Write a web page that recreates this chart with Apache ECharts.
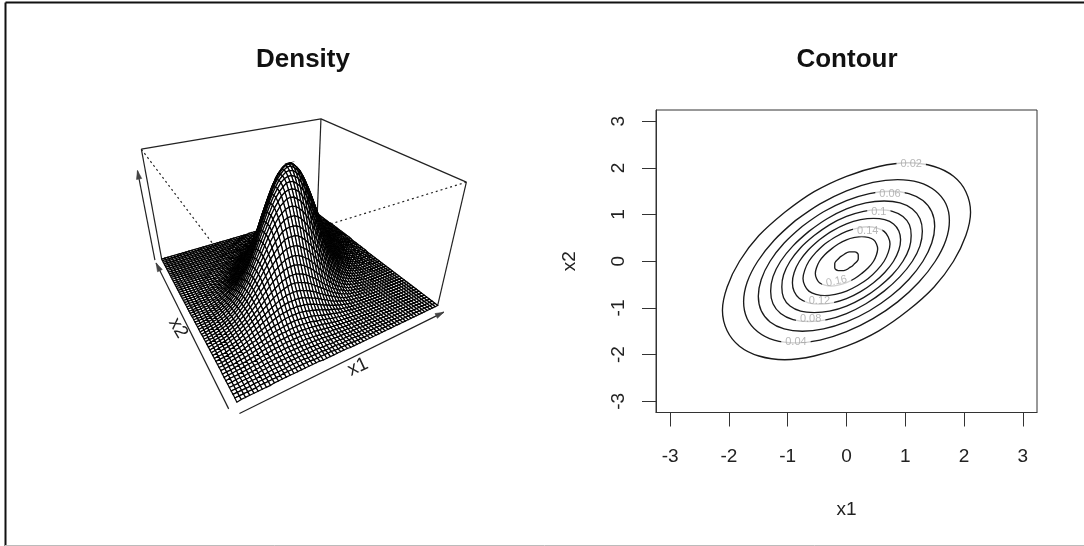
<!DOCTYPE html>
<html>
<head>
<meta charset="utf-8">
<style>
  html, body { margin: 0; padding: 0; background: #fff; }
  #chart { width: 1084px; height: 546px; }
</style>
<script src="https://cdn.jsdelivr.net/npm/echarts@6/dist/echarts.min.js"></script>
</head>
<body>
<div id="chart"></div>
<script>
// surface heights in thousandths, estimated from the contour levels of the right panel.
// one row per x2 step (0 to 3 by 0.1), each row runs outwards from its ridge, missing = 0
const surfaceRows = [
  [184,183,179,173,165,156,145,133,120,107,94,82,70,60,50,41,33,27,21,17,13,10,7,5,4,3,2,1,1,1],
  [183,180,175,169,160,149,138,126,113,100,88,76,65,54,45,37,30,24,19,14,11,8,6,5,3,2,2,1,1,1],
  [180,179,175,170,162,153,142,130,118,105,92,80,69,58,49,40,33,26,21,16,13,10,7,5,4,3,2,1,1,1],
  [175,173,169,162,154,144,133,121,109,96,84,73,62,52,43,35,29,23,18,14,11,8,6,4,3,2,2,1,1,1],
  [170,169,165,160,153,144,133,122,111,99,87,76,65,55,46,38,31,25,20,15,12,9,7,5,4,3,2,1,1,1],
  [162,160,156,149,142,133,122,111,100,89,78,67,57,48,40,33,26,21,17,13,10,7,6,4,3,2,2,1,1],
  [154,153,149,145,138,130,121,111,100,89,79,69,59,50,42,34,28,22,18,14,11,8,6,5,3,2,2,1,1,1],
  [144,142,138,133,126,118,109,99,89,79,69,60,51,43,35,29,23,19,15,11,9,7,5,4,3,2,1,1,1],
  [133,133,130,126,120,113,105,96,87,78,69,60,51,43,36,30,24,19,15,12,9,7,5,4,3,2,1,1,1],
  [122,121,118,113,107,100,92,84,76,67,59,51,43,36,30,25,20,16,13,10,7,6,4,3,2,2,1,1,1],
  [111,111,109,105,100,94,88,80,73,65,57,50,43,36,30,25,20,16,13,10,8,6,4,3,2,2,1,1,1],
  [100,99,96,92,88,82,76,69,62,55,48,42,35,30,25,20,16,13,10,8,6,5,3,3,2,1,1,1],
  [89,89,87,84,80,76,70,65,58,52,46,40,34,29,24,20,16,13,10,8,6,5,4,3,2,1,1,1],
  [79,78,76,73,69,65,60,54,49,43,38,33,28,23,19,16,13,10,8,6,5,4,3,2,1,1,1,1],
  [69,69,67,65,62,58,54,50,45,40,35,31,26,22,19,15,13,10,8,6,5,4,3,2,1,1,1,1],
  [60,59,57,55,52,49,45,41,37,33,29,25,21,18,15,12,10,8,6,5,4,3,2,2,1,1,1],
  [51,51,50,48,46,43,40,37,33,30,26,23,20,17,14,11,9,7,6,5,4,3,2,2,1,1,1],
  [43,43,42,40,38,35,33,30,27,24,21,18,15,13,11,9,7,6,4,3,3,2,1,1,1,1],
  [36,36,35,34,33,31,29,26,24,21,19,16,14,12,10,8,7,5,4,3,3,2,1,1,1,1],
  [30,30,29,28,26,25,23,21,19,17,14,13,11,9,7,6,5,4,3,2,2,1,1,1,1],
  [25,25,24,23,22,21,20,18,16,14,13,11,10,8,7,6,5,4,3,2,2,1,1,1,1],
  [20,20,19,19,18,17,15,14,13,11,10,8,7,6,5,4,3,3,2,2,1,1,1,1],
  [16,16,16,15,15,14,13,12,11,10,8,7,6,5,4,4,3,2,2,1,1,1,1],
  [13,13,13,12,11,11,10,9,8,7,6,5,5,4,3,3,2,2,1,1,1,1],
  [10,10,10,10,9,9,8,7,7,6,5,5,4,3,3,2,2,2,1,1,1,1],
  [8,8,8,7,7,7,6,6,5,4,4,3,3,2,2,2,1,1,1,1],
  [6,6,6,6,6,5,5,5,4,4,3,3,2,2,2,1,1,1,1,1],
  [5,5,5,4,4,4,4,3,3,3,2,2,2,1,1,1,1,1],
  [4,4,4,3,3,3,3,3,2,2,2,2,1,1,1,1,1,1],
  [3,3,3,3,2,2,2,2,2,2,1,1,1,1,1,1],
  [2,2,2,2,2,2,2,1,1,1,1,1,1,1,1]
];
const surfaceMax = 184;

// contour lines, [x1, x2]
const contour002 = [[-1.05,1.05],[-.55,1.49],[0,1.82],[.55,2.03],[1.05,2.11],[1.49,2.03],[1.82,1.82],[2.03,1.49],[2.11,1.05],[2.03,.55],[1.82,0],[1.49,-.55],[1.05,-1.05],[.55,-1.49],[0,-1.82],[-.55,-2.03],[-1.05,-2.11],[-1.49,-2.03],[-1.82,-1.82],[-2.03,-1.49],[-2.11,-1.05],[-2.03,-.55],[-1.82,0],[-1.49,.55],[-1.05,1.05]];
const contour004 = [[-.87,.87],[-.45,1.23],[0,1.51],[.45,1.69],[.87,1.75],[1.23,1.69],[1.51,1.51],[1.69,1.23],[1.75,.87],[1.69,.45],[1.51,0],[1.23,-.45],[.87,-.87],[.45,-1.23],[0,-1.51],[-.45,-1.69],[-.87,-1.75],[-1.23,-1.69],[-1.51,-1.51],[-1.69,-1.23],[-1.75,-.87],[-1.69,-.45],[-1.51,0],[-1.23,.45],[-.87,.87]];
const contour006 = [[-.75,.75],[-.39,1.06],[0,1.30],[.39,1.45],[.75,1.50],[1.06,1.45],[1.30,1.30],[1.45,1.06],[1.50,.75],[1.45,.39],[1.30,0],[1.06,-.39],[.75,-.75],[.39,-1.06],[0,-1.30],[-.39,-1.45],[-.75,-1.50],[-1.06,-1.45],[-1.30,-1.30],[-1.45,-1.06],[-1.50,-.75],[-1.45,-.39],[-1.30,0],[-1.06,.39],[-.75,.75]];
const contour008 = [[-.64,.64],[-.33,.91],[0,1.12],[.33,1.25],[.64,1.29],[.91,1.25],[1.12,1.12],[1.25,.91],[1.29,.64],[1.25,.33],[1.12,0],[.91,-.33],[.64,-.64],[.33,-.91],[0,-1.12],[-.33,-1.25],[-.64,-1.29],[-.91,-1.25],[-1.12,-1.12],[-1.25,-.91],[-1.29,-.64],[-1.25,-.33],[-1.12,0],[-.91,.33],[-.64,.64]];
const contour010 = [[-.55,.55],[-.29,.78],[0,.96],[.29,1.07],[.55,1.10],[.78,1.07],[.96,.96],[1.07,.78],[1.10,.55],[1.07,.29],[.96,0],[.78,-.29],[.55,-.55],[.29,-.78],[0,-.96],[-.29,-1.07],[-.55,-1.10],[-.78,-1.07],[-.96,-.96],[-1.07,-.78],[-1.10,-.55],[-1.07,-.29],[-.96,0],[-.78,.29],[-.55,.55]];
const contour012 = [[-.46,.46],[-.24,.65],[0,.80],[.24,.89],[.46,.92],[.65,.89],[.80,.80],[.89,.65],[.92,.46],[.89,.24],[.80,0],[.65,-.24],[.46,-.46],[.24,-.65],[0,-.80],[-.24,-.89],[-.46,-.92],[-.65,-.89],[-.80,-.80],[-.89,-.65],[-.92,-.46],[-.89,-.24],[-.80,0],[-.65,.24],[-.46,.46]];
const contour014 = [[-.37,.37],[-.19,.52],[0,.64],[.19,.71],[.37,.74],[.52,.71],[.64,.64],[.71,.52],[.74,.37],[.71,.19],[.64,0],[.52,-.19],[.37,-.37],[.19,-.52],[0,-.64],[-.19,-.71],[-.37,-.74],[-.52,-.71],[-.64,-.64],[-.71,-.52],[-.74,-.37],[-.71,-.19],[-.64,0],[-.52,.19],[-.37,.37]];
const contour016 = [[-.26,.26],[-.14,.37],[0,.46],[.14,.51],[.26,.53],[.37,.51],[.46,.46],[.51,.37],[.53,.26],[.51,.14],[.46,0],[.37,-.14],[.26,-.26],[.14,-.37],[0,-.46],[-.14,-.51],[-.26,-.53],[-.37,-.51],[-.46,-.46],[-.51,-.37],[-.53,-.26],[-.51,-.14],[-.46,0],[-.37,.14],[-.26,.26]];
const contour018 = [[-.10,.10],[-.05,.14],[0,.18],[.05,.20],[.10,.20],[.14,.20],[.18,.18],[.20,.14],[.20,.10],[.20,.05],[.18,0],[.14,-.05],[.10,-.10],[.05,-.14],[0,-.18],[-.05,-.20],[-.10,-.20],[-.14,-.20],[-.18,-.18],[-.20,-.14],[-.20,-.10],[-.20,-.05],[-.18,0],[-.14,.05],[-.10,.10]];

// where the contour labels sit: [x1, x2, text, angle]
const contourLabels = [
  [1.10, 2.08, '0.02', 0],
  [-.86, -1.72, '0.04', 0],
  [.74, 1.45, '0.06', 0],
  [-.61, -1.24, '0.08', 0],
  [.55, 1.06, '0.1', 0],
  [-.46, -.86, '0.12', 0],
  [.36, .65, '0.14', 0],
  [-.17, -.43, '0.16', 12]
];
const tickValues = [-3, -2, -1, 0, 1, 2, 3];

// box of the perspective plot, corners in -1..1
const boxSolid = [
  [[-1,1,1],[1,1,1]], [[1,1,1],[1,-1,1]],
  [[-1,1,1],[-1,1,-1]], [[1,1,1],[1,1,-1]], [[1,-1,1],[1,-1,-1]],
  [[-1,1,-1],[1,1,-1]], [[1,1,-1],[1,-1,-1]]
];
const boxDotted = [[[-1,1,1],[-1,-1,1]], [[1,-1,1],[-1,-1,1]]];
// axis arrows next to the box
const boxArrows = [
  [[-1.02,-1.09,-1],[.98,-1.09,-1]],
  [[-1.07,-1.02,-1],[-1.07,.96,-1]],
  [[-1.07,1,-.98],[-1.07,1,.68]]
];

const FONT = '"Liberation Sans", Arial, sans-serif';
const theta = 30 * Math.PI / 180;
const phi = 30 * Math.PI / 180;
const expand = 0.6;
const viewDist = Math.sqrt(3) + 2;

// same viewing transform as persp(): rotate, then perspective divide
function project(px, py, pz) {
  const u = px * Math.cos(theta) - py * Math.sin(theta);
  const v = px * Math.sin(theta) + py * Math.cos(theta);
  const zz = pz * expand;
  const w = viewDist + v * Math.cos(phi) - zz * Math.sin(phi);
  return [u / w, (zz * Math.cos(phi) + v * Math.sin(phi)) / w];
}

const halfN = surfaceRows.length - 1;
const gridN = halfN * 2;

// look up a height; the surface is the same turned around its centre, rows are the same on both sides of the ridge
function heightAt(r, c) {
  let row = r - halfN;
  let col = c - halfN;
  if (row < 0) {
    row = -row;
    col = -col;
  }
  return surfaceRows[row][Math.floor(Math.abs(col - row / 2))] || 0;
}

function meshPoint(api, r, c) {
  return api.coord(project(-1 + 2 * c / gridN, -1 + 2 * r / gridN, heightAt(r, c) / surfaceMax * 2 - 1));
}

// back to front, so nearer cells paint over the ones behind them
const surfaceCells = [];
for (let r = gridN - 1; r >= 0; r--) {
  for (let c = gridN - 1; c >= 0; c--) {
    surfaceCells.push([c, r]);
  }
}

function edgeSeries(edges, dash, width, withHead) {
  return {
    type: 'custom',
    xAxisIndex: 0,
    yAxisIndex: 0,
    silent: true,
    clip: false,
    z: withHead ? 5 : 2,
    data: edges.map(function (e, i) { return [i, i]; }),
    encode: { x: [], y: [] },
    renderItem: function (params, api) {
      const e = edges[params.dataIndex];
      const a = api.coord(project(e[0][0], e[0][1], e[0][2]));
      const b = api.coord(project(e[1][0], e[1][1], e[1][2]));
      const style = { stroke: '#222', lineWidth: width, fill: null, lineDash: dash };
      const kids = [{ type: 'line', shape: { x1: a[0], y1: a[1], x2: b[0], y2: b[1] }, style: style }];
      if (withHead) {
        const ang = Math.atan2(b[1] - a[1], b[0] - a[0]);
        const barb = function (d) {
          return [b[0] - 9 * Math.cos(ang + d), b[1] - 9 * Math.sin(ang + d)];
        };
        kids.push({ type: 'polygon', shape: { points: [b, barb(0.3), barb(-0.3)] }, style: { fill: '#444', stroke: '#444', lineWidth: 0.6 } });
      }
      return { type: 'group', children: kids };
    }
  };
}

function contourSeries(points) {
  return {
    type: 'line',
    xAxisIndex: 1,
    yAxisIndex: 1,
    data: points,
    symbol: 'none',
    smooth: 0.35,
    silent: true,
    z: 3,
    lineStyle: { color: '#1a1a1a', width: 1.35 }
  };
}

const chartInstance = echarts.init(document.getElementById('chart'));
const option = {
  animation: false,
  backgroundColor: '#fff',
  textStyle: { fontFamily: FONT },
  title: [
    { text: 'Density', left: 298, top: 42, textAlign: 'center', textStyle: { fontFamily: FONT, fontSize: 26, fontWeight: 'bold', color: '#111' } },
    { text: 'Contour', left: 842, top: 42, textAlign: 'center', textStyle: { fontFamily: FONT, fontSize: 26, fontWeight: 'bold', color: '#111' } }
  ],
  grid: [
    { left: 120, top: 100, width: 360, height: 320, show: false },
    { left: 656, top: 110, width: 381, height: 302.5, show: true, borderColor: '#333', borderWidth: 1, backgroundColor: 'transparent' }
  ],
  xAxis: [
    { gridIndex: 0, type: 'value', min: -0.4171, max: 0.4722, show: false },
    {
      gridIndex: 1, type: 'value', min: -3.24, max: 3.24,
      name: 'x1', nameLocation: 'middle', nameGap: 88,
      nameTextStyle: { fontSize: 19, color: '#222', fontFamily: FONT },
      axisLine: { show: true, onZero: false, lineStyle: { color: '#333', width: 1 } },
      axisTick: { show: true, length: 14, customValues: tickValues, lineStyle: { color: '#333', width: 1 } },
      axisLabel: { show: true, customValues: tickValues, margin: 35, fontSize: 19, color: '#222', fontFamily: FONT, hideOverlap: false },
      splitLine: { show: false }
    }
  ],
  yAxis: [
    { gridIndex: 0, type: 'value', min: -0.4651, max: 0.3060, show: false },
    {
      gridIndex: 1, type: 'value', min: -3.24, max: 3.24,
      name: 'x2', nameLocation: 'middle', nameGap: 77, nameRotate: 90,
      nameTextStyle: { fontSize: 19, color: '#222', fontFamily: FONT },
      axisLine: { show: true, onZero: false, lineStyle: { color: '#333', width: 1 } },
      axisTick: { show: true, length: 14, customValues: tickValues, lineStyle: { color: '#333', width: 1 } },
      axisLabel: { show: true, customValues: tickValues, margin: 28, rotate: 90, fontSize: 19, color: '#222', fontFamily: FONT, hideOverlap: false },
      splitLine: { show: false }
    }
  ],
  series: [
    edgeSeries(boxSolid, null, 1.2, false),
    edgeSeries(boxDotted, [2, 3], 1.2, false),
    {
      type: 'custom',
      xAxisIndex: 0,
      yAxisIndex: 0,
      silent: true,
      clip: false,
      z: 4,
      progressive: 0,
      data: surfaceCells,
      encode: { x: [], y: [] },
      renderItem: function (params, api) {
        const cell = surfaceCells[params.dataIndex];
        const c = cell[0];
        const r = cell[1];
        return {
          type: 'polygon',
          shape: { points: [meshPoint(api, r, c), meshPoint(api, r, c + 1), meshPoint(api, r + 1, c + 1), meshPoint(api, r + 1, c)] },
          style: { fill: '#fff', stroke: '#000', lineWidth: 1.2 }
        };
      }
    },
    edgeSeries(boxArrows, null, 1.2, true),
    contourSeries(contour002),
    contourSeries(contour004),
    contourSeries(contour006),
    contourSeries(contour008),
    contourSeries(contour010),
    contourSeries(contour012),
    contourSeries(contour014),
    contourSeries(contour016),
    contourSeries(contour018),
    {
      type: 'scatter',
      xAxisIndex: 1,
      yAxisIndex: 1,
      symbolSize: 0,
      silent: true,
      z: 6,
      data: contourLabels.map(function (item) {
        return {
          value: [item[0], item[1]],
          label: {
            show: true,
            position: 'inside',
            formatter: item[2],
            rotate: item[3],
            fontSize: 11,
            fontFamily: FONT,
            color: '#a6a6a6',
            backgroundColor: '#fff',
            padding: [1, 4, 0, 4],
            lineHeight: 10
          }
        };
      })
    }
  ],
  graphic: [
    { type: 'line', silent: true, shape: { x1: 5.5, y1: 2.5, x2: 1084, y2: 2.5 }, style: { stroke: '#111', lineWidth: 2 } },
    { type: 'line', silent: true, shape: { x1: 5.5, y1: 2.5, x2: 5.5, y2: 546 }, style: { stroke: '#111', lineWidth: 2 } },
    { type: 'line', silent: true, shape: { x1: 5, y1: 545.5, x2: 1084, y2: 545.5 }, style: { stroke: '#bbb', lineWidth: 1 } },
    { type: 'text', silent: true, x: 358, y: 367, rotation: 25 * Math.PI / 180, style: { text: 'x1', font: '19px ' + FONT, fill: '#222', textAlign: 'center', textVerticalAlign: 'middle' } },
    { type: 'text', silent: true, x: 178, y: 328, rotation: -60 * Math.PI / 180, style: { text: 'x2', font: '19px ' + FONT, fill: '#222', textAlign: 'center', textVerticalAlign: 'middle' } }
  ]
};
chartInstance.setOption(option);
</script>
</body>
</html>
